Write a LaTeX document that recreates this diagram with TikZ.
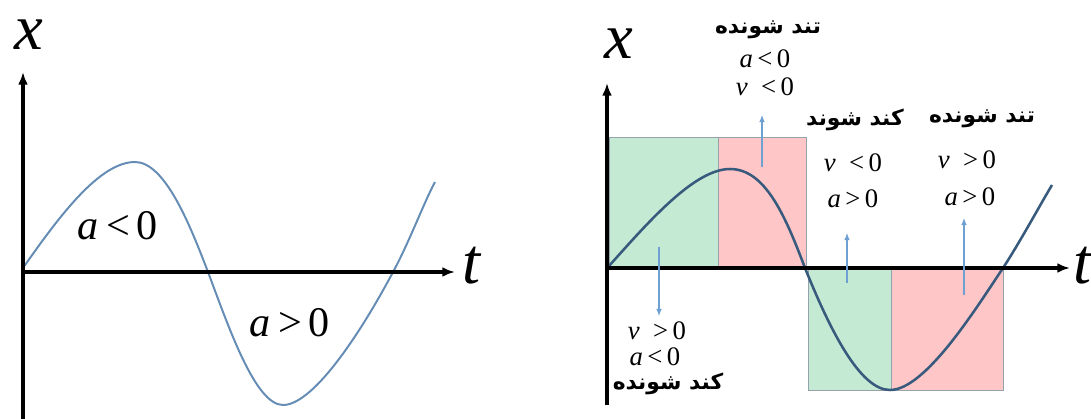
\documentclass[tikz,border=0pt]{standalone}
\usepackage{fontspec}
\usetikzlibrary{arrows.meta}
\TeXXeTstate=1
\newfontfamily\arabicfont[Script=Arabic]{DejaVu Sans}
\newfontfamily\timesfont{Liberation Serif}
\definecolor{curveblue}{RGB}{100,140,180}
\definecolor{curvedark}{RGB}{55,90,125}
\definecolor{tipblue}{RGB}{110,160,210}
\definecolor{mint}{RGB}{196,234,212}
\definecolor{rose}{RGB}{255,198,200}
\definecolor{rimgray}{RGB}{150,162,172}

\begin{document}
\begin{tikzpicture}[x=0.025cm, y=-0.025cm,
    axis/.style={line width=2.2pt, -{Latex[length=9pt, width=7pt]}},
    big/.style={font=\timesfont\itshape\fontsize{46}{46}\selectfont, inner sep=0pt},
    fa/.style={font=\arabicfont\bfseries\fontsize{15.5}{17}\selectfont, inner sep=0pt},
    lab/.style={font=\timesfont\fontsize{19}{19}\selectfont, inner sep=0pt},
    hint/.style={tipblue, line width=0.8pt, -{Latex[length=5pt, width=4pt]}}]
    \useasboundingbox (0,0) rectangle (1091,419);

    % Left graph
    \draw[curveblue, line width=1.4pt] (23,268) .. controls (60,215) and (100,162) .. (135,162)
        .. controls (165,162) and (190,225) .. (208,272)
        .. controls (228,325) and (255,405) .. (283,405)
        .. controls (315,405) and (365,325) .. (393,272)
        .. controls (408,245) and (425,200) .. (435,182);
    \coordinate (oL) at (23,272);
    \draw[axis] (23,419) -- (23,72);
    \draw[axis] (oL) -- (455,272);
    \node[big] (xL) at (29,35) {x};
    \node[big] (tL) at (471,266) {t};
    \node[font=\timesfont\fontsize{30}{30}\selectfont] (aneg) at (118,226) {\textit{a}\,<\,0};
    \node[font=\timesfont\fontsize{30}{30}\selectfont] (apos) at (290,323) {\textit{a}\,>\,0};

    % Right graph: boxes
    \draw[rimgray, fill=mint] (609,137) rectangle (718,268);
    \draw[rimgray, fill=rose] (718,137) rectangle (806,268);
    \draw[rimgray, fill=mint] (808,268) rectangle (891,390);
    \draw[rimgray, fill=rose] (891,268) rectangle (1003,390);

    \draw[curvedark, line width=1.8pt] (609,266) .. controls (650,220) and (695,169) .. (730,169)
        .. controls (765,169) and (785,215) .. (805,268)
        .. controls (830,330) and (860,390) .. (890,390)
        .. controls (925,390) and (975,310) .. (1003,268)
        .. controls (1020,242) and (1040,205) .. (1052,185);
    \coordinate (oR) at (607,268);
    \draw[axis] (607,405) -- (607,83);
    \draw[axis] (oR) -- (1070,268);
    \node[big] (xR) at (619,44) {x};
    \node[big] (tR) at (1082,266) {t};

    % Labels
    \node[fa] (up1) at (768,30) {\beginR تند شونده\endR};
    \node[lab] (up2) at (765,59) {\textit{a}\,<\,0};
    \node[lab] (up3) at (765,87) {\textit{v}\ \ <\,0};

    \node[fa] (mid1) at (855,120) {\beginR کند شوند\endR};
    \node[lab] (mid2) at (853,163) {\textit{v}\ \ <\,0};
    \node[lab] (mid3) at (853,199) {\textit{a}\,>\,0};

    \node[fa] (rt1) at (982,119) {\beginR تند شونده\endR};
    \node[lab] (rt2) at (967,160) {\textit{v}\ \ >\,0};
    \node[lab] (rt3) at (970,197) {\textit{a}\,>\,0};

    \node[lab] (lo1) at (657,331) {\textit{v}\ \ >\,0};
    \node[lab] (lo2) at (655,357) {\textit{a}\,<\,0};
    \node[fa] (lo3) at (668,384) {\beginR کند شونده\endR};

    % Pointers
    \coordinate (p1) at (659,247);
    \coordinate (q1) at (659,316);
    \coordinate (p2) at (762,167);
    \coordinate (q2) at (762,115);
    \coordinate (p3) at (847,283);
    \coordinate (q3) at (847,233);
    \coordinate (p4) at (964,295);
    \coordinate (q4) at (964,218);
    \draw[hint] (p1) -- (q1);
    \draw[hint] (p2) -- (q2);
    \draw[hint] (p3) -- (q3);
    \draw[hint] (p4) -- (q4);
\end{tikzpicture}
\end{document}
